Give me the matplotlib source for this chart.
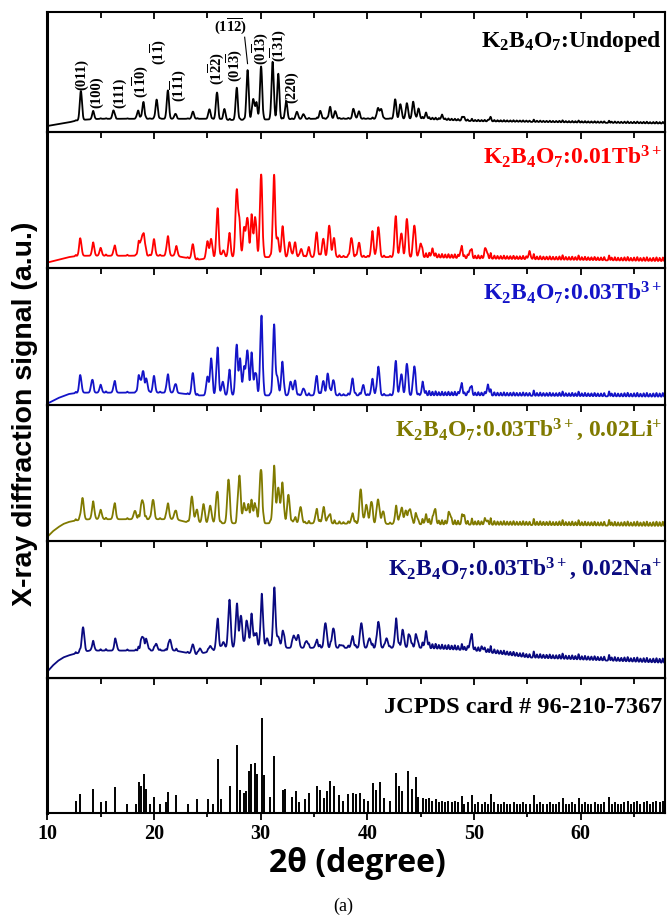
import numpy as np
import matplotlib
matplotlib.use('Agg')
import matplotlib.pyplot as plt
from matplotlib.ticker import MultipleLocator

# ---------------- data (2theta in degree, intensity in a.u.) ----------------
# Undoped
undoped_bg_pos = [10, 11, 12, 13, 15, 25, 27, 35, 45, 50, 68]
undoped_bg_val = [5, 6.5, 8, 10, 11, 11, 10, 11, 11, 9, 7]
undoped_pk_pos = [13.15, 14.3, 16.2, 18.5, 19.0, 20.25, 21.3, 22.0, 23.65, 25.2, 25.9, 26.6,
                  27.75, 28.77, 29.3, 29.6, 30.03, 31.12, 31.65, 32.4, 33.4, 34.0, 35.6, 36.5,
                  37.0, 38.7, 39.2, 41.0, 41.3, 42.6, 43.1, 43.7, 44.3, 44.8, 45.5, 47.0, 49.0, 51.5]
undoped_pk_amp = [24, 6, 7, 6, 13, 16, 23, 4, 6, 8, 22, 9,
                  25, 41, 17, 13, 43, 48, 38, 15, 6, 4, 6, 9,
                  6, 8, 6, 9, 8, 16, 12, 13, 14, 8, 4, 3, 3, 2]

# 0.01 Tb3+
tb01_bg_pos = [10, 11, 12, 13, 22, 24, 26, 45, 50, 68]
tb01_bg_val = [4, 6, 8, 9, 9, 6, 8, 8, 7, 5]
tb01_pk_pos = [13.1, 14.3, 15.0, 16.3, 18.6, 18.9, 19.1, 20.0, 21.3, 22.1, 23.64, 25.0, 25.35,
               25.95, 26.5, 27.07, 27.73, 27.98, 28.45, 28.75, 29.16, 29.5, 30.03, 31.25, 31.6,
               32.06, 32.7, 33.2, 33.8, 34.5, 35.23, 35.86, 36.42, 36.85, 38.5, 39.2, 40.47,
               41.03, 42.65, 43.18, 43.7, 44.4, 45.0, 46.1, 48.8, 49.66, 51.1, 55.2]
tb01_pk_amp = [12, 8, 5, 6, 9, 13, 9, 11, 13, 6, 11, 12, 14,
               33, 5, 16, 44, 27, 20, 28, 28, 27, 58, 57, 14,
               21, 11, 10, 6, 6, 17, 13, 23, 13, 14, 10, 17,
               22, 28, 17, 28, 23, 10, 4, 6, 6, 7, 4]

# 0.03 Tb3+
tb03_bg_pos = [10, 10.5, 11, 11.5, 12, 13, 22, 24, 26, 45, 50, 68]
tb03_bg_val = [1, 3, 5, 6.5, 8, 9, 9, 7, 7, 7, 7, 6]
tb03_pk_pos = [13.1, 14.2, 15.0, 16.3, 18.6, 18.95, 19.3, 20.0, 21.3, 22.0, 23.64, 25.0, 25.36,
               25.95, 26.45, 27.07, 27.73, 28.07, 28.45, 28.75, 29.16, 29.53, 30.06, 31.25, 31.56,
               32.03, 32.8, 33.2, 34.0, 35.23, 35.86, 36.3, 36.8, 38.6, 39.6, 40.47, 41.03,
               42.65, 43.18, 43.7, 44.4, 45.2, 48.8, 49.66, 51.3]
tb03_pk_amp = [12, 9, 5, 7, 11, 15, 9, 11, 12, 6, 16, 13, 27,
               32, 10, 17, 34, 25, 19, 32, 28, 15, 53, 48, 13,
               23, 10, 10, 5, 13, 10, 15, 11, 11, 7, 10, 21,
               23, 15, 23, 21, 7, 6, 6, 6]

# 0.03 Tb3+, 0.02 Li+
li_bg_pos = [10, 10.5, 11, 11.5, 12, 13, 14, 22, 23, 25, 34, 50, 68]
li_bg_val = [3, 7, 10, 12.5, 14, 15.5, 16, 16, 14, 13, 13, 12, 11]
li_pk_pos = [13.3, 14.3, 15.0, 16.3, 18.2, 18.9, 19.9, 21.3, 22.0, 23.55, 24.0, 24.64, 25.27,
             25.9, 26.98, 28.0, 28.44, 28.8, 29.16, 29.5, 30.0, 31.25, 31.65, 32.03, 32.6,
             33.2, 33.74, 35.23, 35.9, 36.42, 38.6, 39.38, 39.9, 40.37, 41.0, 41.46, 42.7,
             43.2, 43.6, 44.0, 44.6, 45.5, 46.3, 47.7, 49.0, 51.1]
li_pk_amp = [16, 11, 6, 10, 6, 14, 14, 10, 6, 19, 9, 14, 13,
             22, 32, 34, 13, 11, 13, 11, 38, 38, 26, 28, 21,
             3, 12, 9, 11, 6, 6, 25, 14, 16, 18, 9, 10,
             11, 10, 11, 6, 4, 10, 8, 6, 3]

# 0.03 Tb3+, 0.02 Na+
na_bg_pos = [10, 10.5, 11, 11.5, 12, 13, 14, 22, 24, 25, 27, 45, 50, 55, 68]
na_bg_val = [4.6, 9, 12.5, 15, 16.5, 18.5, 20, 20, 17, 19, 22, 22, 20, 15, 11]
na_pk_pos = [13.35, 14.3, 16.4, 18.9, 19.3, 20.2, 21.5, 23.64, 24.3, 25.27, 25.95, 26.5,
             27.07, 27.76, 28.16, 28.7, 29.16, 29.56, 30.1, 30.6, 31.28, 31.65, 32.1, 33.1,
             33.5, 34.3, 35.23, 36.07, 36.8, 37.57, 38.6, 39.44, 40.2, 41.03, 41.8, 42.7,
             43.33, 43.96, 44.6, 45.5, 49.72, 50.8]
na_pk_amp = [18, 5, 7, 10, 7, 5, 8, 7, 4, 4, 19, 5,
             33, 27, 23, 19, 21, 8, 31, 7, 39, 8, 11, 9,
             9, 5, 4, 18, 14, 2, 7, 18, 7, 19, 7, 18,
             12, 9, 8, 9, 9, 2]

# JCPDS card # 96-210-7367 reference lines
jcpds_pos = [12.66, 13.04, 14.3, 15.0, 15.5, 16.35, 17.5, 18.3, 18.55, 18.75, 19.05, 19.24,
             19.6, 20.0, 20.57, 21.1, 21.33, 22.1, 23.16, 24.07, 25.06, 25.5, 26.0, 26.27,
             27.1, 27.8, 28.06, 28.44, 28.63, 28.86, 29.13, 29.43, 29.62, 30.11, 30.27, 30.9,
             31.29, 32.05, 32.24, 32.93, 33.27, 33.57, 34.14, 34.52, 35.29, 35.55, 35.93, 36.24,
             36.54, 36.92, 37.38, 37.76, 38.21, 38.63, 38.9, 39.28, 39.66, 40.04, 40.49, 40.8,
             41.18, 41.56, 42.13, 42.7, 43.0, 43.27, 43.84, 44.22, 44.52, 44.79, 45.17,
             45.5, 45.8, 46.1, 46.4, 46.7, 47.0, 47.3, 47.6, 47.9, 48.2, 48.5, 48.86, 49.1,
             49.4, 49.8, 50.1, 50.4, 50.7, 51.0, 51.3, 51.56, 51.9, 52.2, 52.5, 52.8, 53.1,
             53.4, 53.7, 54.0, 54.3, 54.6, 54.9, 55.2, 55.6, 55.9, 56.2, 56.5, 56.8, 57.1,
             57.4, 57.7, 58.0, 58.3, 58.6, 58.9, 59.2, 59.5, 59.8, 60.1, 60.4, 60.7, 61.0,
             61.3, 61.6, 61.9, 62.2, 62.66, 62.9, 63.2, 63.5, 63.8, 64.1, 64.4, 64.7, 65.0,
             65.3, 65.6, 65.9, 66.2, 66.5, 66.8, 67.1, 67.4, 67.7]
jcpds_int = [8.6, 14, 18, 8, 9, 19, 7, 6.6, 23, 20, 29, 18,
             7, 12, 7, 8, 15.5, 13, 7, 10, 10, 7, 40, 10,
             20, 50, 17, 15, 16, 31, 36, 37, 29, 70, 28, 12,
             42.5, 17, 18, 12, 16.5, 8, 10, 15, 20, 17, 11, 16,
             24, 20, 13.5, 9, 14, 15, 14, 15, 10, 9, 22, 17,
             23, 11, 9, 29.5, 20, 16, 31, 18, 27, 12, 11,
             10, 11, 9, 10, 8, 9, 8, 9, 8, 9, 8, 12.5, 7,
             8, 13, 7, 8, 7, 8, 7, 14, 8, 7, 7, 8, 7,
             7, 8, 7, 7, 8, 7, 7, 13, 7, 8, 7, 7, 8,
             7, 7, 8, 11, 7, 7, 8, 7, 11, 7, 8, 7, 7,
             8, 7, 7, 8, 12, 7, 8, 7, 7, 8, 9, 7, 8,
             9, 7, 8, 9, 7, 8, 9, 8, 9]

# Miller-index labels of the undoped pattern: (text, 2theta, bottom of label)
hkl_text = ['(011)', '(100)', '(111)', r'(1$\overline{1}$0)', r'(1$\overline{1}$)',
            r'(1$\overline{1}$1)', r'(1$\overline{2}$2)', r'(01$\overline{3}$)',
            r'(0$\overline{1}$3)', r'($\overline{1}$31)', '(220)']
hkl_pos = [13.2, 14.6, 16.8, 18.7, 20.4, 22.25, 25.8, 27.5, 29.9, 31.6, 32.9]
hkl_y = [35, 20, 20, 28, 56, 25, 39, 42, 56, 58, 24]

sample_names = ['K$_2$B$_4$O$_7$:Undoped', 'K$_2$B$_4$O$_7$:0.01Tb$^{3+}$',
                'K$_2$B$_4$O$_7$:0.03Tb$^{3+}$', 'K$_2$B$_4$O$_7$:0.03Tb$^{3+}$, 0.02Li$^{+}$',
                'K$_2$B$_4$O$_7$:0.03Tb$^{3+}$, 0.02Na$^{+}$', 'JCPDS card # 96-210-7367']
colors = ['#000000', '#ff0000', '#1414c8', '#807a00', '#0a0a80', '#000000']

# ---------------- style ----------------
plt.rcParams['mathtext.fontset'] = 'custom'
plt.rcParams['mathtext.rm'] = 'Liberation Serif:bold'
plt.rcParams['mathtext.bf'] = 'Liberation Serif:bold'
plt.rcParams['mathtext.it'] = 'Liberation Serif:bold:italic'
plt.rcParams['font.family'] = ['Liberation Serif', 'DejaVu Serif']
plt.rcParams['font.weight'] = 'bold'

x = np.linspace(10, 68, 5000)


def profile(bg_pos, bg_val, pk_pos, pk_amp, fwhm=0.26, tex=0.3):
    y = np.interp(x, bg_pos, bg_val)
    s = fwhm / 2.3548
    for p, a in zip(pk_pos, pk_amp):
        y = y + a * np.exp(-0.5 * ((x - p) / s) ** 2)
    st = 0.12 / 2.3548
    for p, a in zip(jcpds_pos, jcpds_int):
        k = tex if p > 45 else tex * 0.35
        y = y + k * a * np.exp(-0.5 * ((x - p) / st) ** 2)
    return y


curves = [
    profile(undoped_bg_pos, undoped_bg_val, undoped_pk_pos, undoped_pk_amp, fwhm=0.24, tex=0.15),
    profile(tb01_bg_pos, tb01_bg_val, tb01_pk_pos, tb01_pk_amp, tex=0.3),
    profile(tb03_bg_pos, tb03_bg_val, tb03_pk_pos, tb03_pk_amp, tex=0.3),
    profile(li_bg_pos, li_bg_val, li_pk_pos, li_pk_amp, fwhm=0.28, tex=0.35),
    profile(na_bg_pos, na_bg_val, na_pk_pos, na_pk_amp, fwhm=0.28, tex=0.35),
]

fig = plt.figure(figsize=(6.67, 9.17), dpi=100)
L, R = 47.3 / 667, 665 / 667
T, B = 1 - 12 / 917, 1 - 813 / 917
gs = fig.add_gridspec(6, 1, left=L, right=R, top=T, bottom=B, hspace=0,
                      height_ratios=[120, 136, 137, 136, 137, 135])
axes = [fig.add_subplot(gs[i]) for i in range(6)]

label_y = [0.75, 0.82, 0.82, 0.82, 0.80, 0.78]
label_fs = [17, 17, 17, 17, 17, 17.5]
for i, ax in enumerate(axes):
    ax.set_xlim(10, 67.9)
    ax.set_ylim(0, 100)
    ax.set_yticks([])
    ax.xaxis.set_major_locator(MultipleLocator(10))
    ax.xaxis.set_minor_locator(MultipleLocator(5))
    for side in ['top', 'bottom', 'right']:
        ax.spines[side].set_linewidth(1.5)
    ax.spines['left'].set_linewidth(2.2)
    ax.set_facecolor('none')
    if i < 5:
        ax.plot(x, curves[i], color=colors[i], lw=1.3)
        ax.tick_params(axis='x', which='both', top=True, bottom=False, direction='in',
                       labelbottom=False, width=1.3)
        ax.tick_params(axis='x', which='major', length=5)
        ax.tick_params(axis='x', which='minor', length=4)
    else:
        ax.vlines(jcpds_pos, 0, jcpds_int, color='k', lw=1.4)
        ax.tick_params(axis='x', which='both', top=False, bottom=True, direction='out',
                       width=1.3, labelsize=14.5, pad=3)
        ax.tick_params(axis='x', which='major', length=5)
        ax.tick_params(axis='x', which='minor', length=3)
        sec = ax.secondary_xaxis('top')
        sec.xaxis.set_major_locator(MultipleLocator(10))
        sec.xaxis.set_minor_locator(MultipleLocator(5))
        sec.tick_params(axis='x', which='both', direction='in', labeltop=False, width=1.3)
        sec.tick_params(axis='x', which='major', length=5)
        sec.tick_params(axis='x', which='minor', length=4)
        for lab in ax.get_xticklabels():
            lab.set_fontweight('bold')
    ax.text(0.995, label_y[i], sample_names[i], transform=ax.transAxes, ha='right',
            va='center', fontsize=label_fs[i], color=colors[i], fontweight='bold')

# Miller indices on the undoped pattern
ax0 = axes[0]
for t, p, yb in zip(hkl_text, hkl_pos, hkl_y):
    ax0.text(p, yb, t, rotation=90, ha='center', va='bottom', fontsize=10.5,
             fontweight='bold')
ax0.text(27.2, 88, r'(1$\overline{12}$)', ha='center', va='center', fontsize=10.5,
         fontweight='bold')
ax0.plot([28.5, 28.77], [79, 57], color='k', lw=0.8)

fig.text(25 / 667, 1 - 414 / 917, 'X-ray diffraction signal (a.u.)', rotation=90,
         ha='center', va='center', fontsize=20.5, fontweight='bold',
         family=['Liberation Sans', 'DejaVu Sans'])
fig.text(357 / 667, 1 - 863 / 917, '2\u03b8 (degree)', ha='center', va='center',
         fontsize=23, fontweight='bold', family=['Open Sans', 'DejaVu Sans'])
fig.text(343 / 667, 1 - 906 / 917, '(a)', ha='center', va='center', fontsize=13,
         fontweight='normal', family=['Liberation Serif'])

fig.savefig('out.png', dpi=100)
